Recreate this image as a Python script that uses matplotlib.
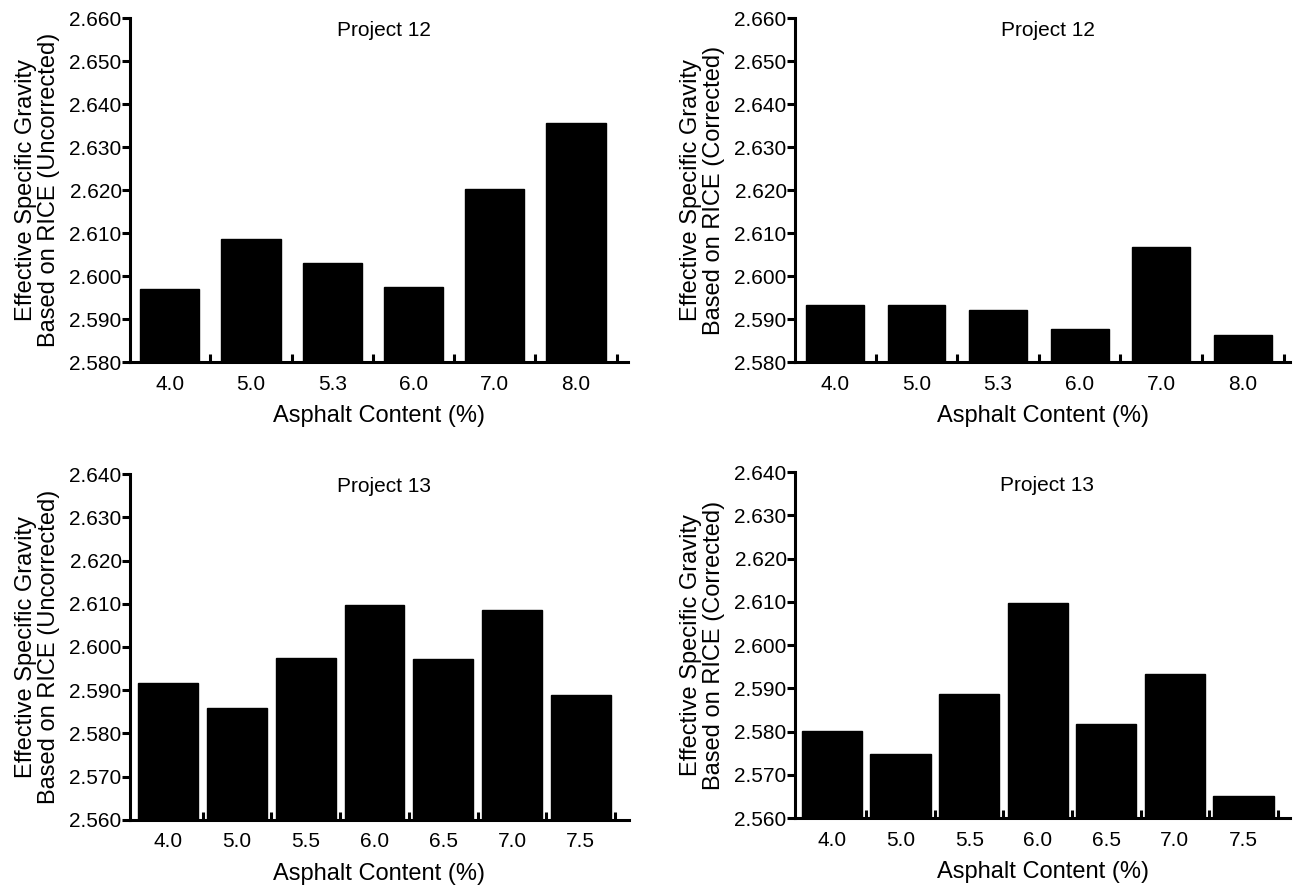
import matplotlib.pyplot as plt
from matplotlib.ticker import FixedLocator

plt.rcParams['font.family'] = ['Liberation Sans Narrow', 'Liberation Sans', 'DejaVu Sans']

# Project 12 mixes
p12_content = ['4.0', '5.0', '5.3', '6.0', '7.0', '8.0']
p12_uncorrected = [2.597, 2.6085, 2.603, 2.5975, 2.6203, 2.6355]
p12_corrected = [2.5932, 2.5932, 2.5921, 2.5876, 2.6067, 2.5862]

# Project 13 mixes
p13_content = ['4.0', '5.0', '5.5', '6.0', '6.5', '7.0', '7.5']
p13_uncorrected = [2.5917, 2.5860, 2.5975, 2.6097, 2.5972, 2.6085, 2.5888]
p13_corrected = [2.5802, 2.5748, 2.5887, 2.6098, 2.5818, 2.5934, 2.5652]

fig = plt.figure(figsize=(12.95, 8.88), dpi=100)

panels = [
    # rect, labels, values, title, ylabel tag, ylim, xlim, bar width
    ([0.1004, 0.5923, 0.3846, 0.3874], p12_content, p12_uncorrected, 'Project 12', 'Uncorrected',
     (2.580, 2.660), (-0.49, 5.64), 0.73),
    ([0.6139, 0.5923, 0.3823, 0.3874], p12_content, p12_corrected, 'Project 12', 'Corrected',
     (2.580, 2.660), (-0.49, 5.58), 0.71),
    ([0.1004, 0.0766, 0.3853, 0.3896], p13_content, p13_uncorrected, 'Project 13', 'Uncorrected',
     (2.560, 2.640), (-0.555, 6.70), 0.87),
    ([0.6139, 0.0788, 0.3823, 0.3896], p13_content, p13_corrected, 'Project 13', 'Corrected',
     (2.560, 2.640), (-0.54, 6.68), 0.88),
]

for rect, cats, vals, title, tag, ylim, xlim, width in panels:
    ax = fig.add_axes(rect)
    x = list(range(len(cats)))
    lo = ylim[0]
    ax.bar(x, [v - lo for v in vals], bottom=lo, width=width, color='black',
           edgecolor='black', zorder=1)
    ax.set_ylim(*ylim)
    ax.set_xlim(*xlim)

    ax.set_yticks([round(ylim[0] + 0.01 * i, 3) for i in range(9)])
    ax.set_yticklabels([f'{ylim[0] + 0.01 * i:.3f}' for i in range(9)])
    ax.set_xticks(x)
    ax.set_xticklabels(cats)
    ax.xaxis.set_minor_locator(FixedLocator([i + 0.5 for i in x]))

    for side in ('top', 'right'):
        ax.spines[side].set_visible(False)
    for side in ('left', 'bottom'):
        ax.spines[side].set_linewidth(2.2)

    ax.tick_params(axis='y', which='major', direction='out', length=6, width=2.2,
                   labelsize=15, pad=0)
    ax.tick_params(axis='x', which='major', length=0, labelsize=15, pad=9)
    ax.tick_params(axis='x', which='minor', direction='in', length=6, width=2.2)

    ax.text(0.51, 0.99, title, transform=ax.transAxes, ha='center', va='top', fontsize=15)
    ax.set_xlabel('Asphalt Content (%)', fontsize=17, labelpad=8)
    ax.set_ylabel('Effective Specific Gravity\nBased on RICE (' + tag + ')',
                  fontsize=17, labelpad=7, linespacing=1.05)

fig.savefig('out.png', dpi=100)
